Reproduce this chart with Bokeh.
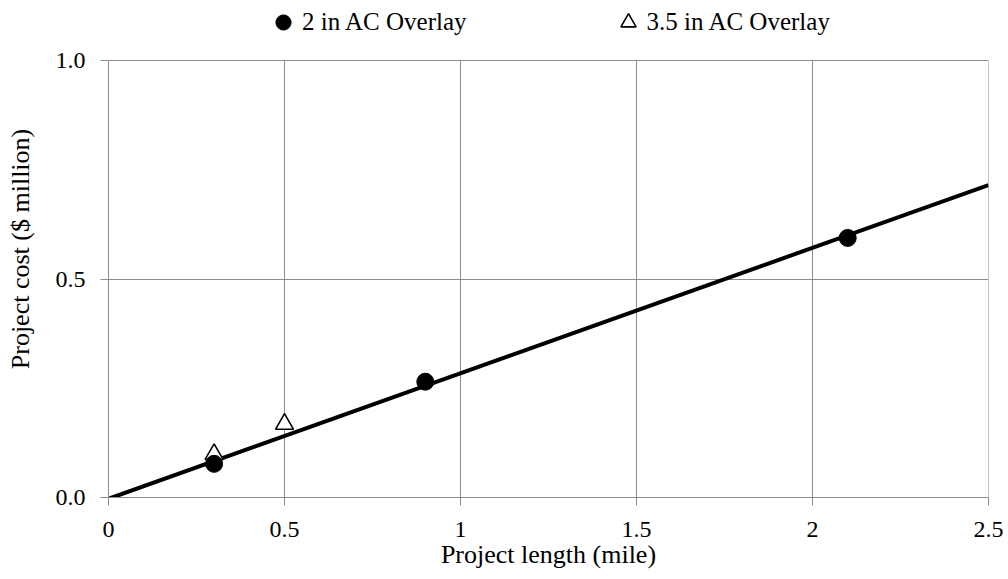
from bokeh.plotting import figure
from bokeh.models import Range1d, FixedTicker, Legend, LegendItem
from bokeh.embed import file_html
from bokeh.resources import INLINE

# ---- data ----
x_ticks = [0, 0.5, 1, 1.5, 2, 2.5]
x_tick_labels = ["0", "0.5", "1", "1.5", "2", "2.5"]
y_ticks = [0.0, 0.5, 1.0]
y_tick_labels = ["0.0", "0.5", "1.0"]

ac2_x = [0.3, 0.9, 2.1]
ac2_y = [0.077, 0.265, 0.594]
ac35_x = [0.3, 0.5]
ac35_y = [0.099, 0.168]

trend_x = [0.0, 2.5]
trend_y = [-0.003, 0.715]

FONT = "Liberation Serif"
GRID = "#8c8c8c"

# frame spans the full height above the x axis; the legend sits in the strip above y = 1.0
FRAME_H = 497
PLOT_H = 437
p = figure(width=1008, height=579, output_backend="svg", toolbar_location=None,
           x_range=Range1d(x_ticks[0], x_ticks[-1]),
           y_range=Range1d(y_ticks[0], y_ticks[-1] * FRAME_H / PLOT_H),
           min_border_left=108, min_border_right=20,
           min_border_top=0, min_border_bottom=82)
p.outline_line_color = None
p.background_fill_color = "white"
p.border_fill_color = "white"

# vertical grid lines, bounded to the 0..1 value band
p.segment(x0=x_ticks, y0=[y_ticks[0]] * len(x_ticks),
          x1=x_ticks, y1=[y_ticks[-1]] * len(x_ticks),
          line_color=GRID, line_width=1)
p.xgrid.visible = False
p.ygrid.ticker = FixedTicker(ticks=y_ticks)
p.ygrid.grid_line_color = GRID
p.ygrid.grid_line_width = 1

# trend line
p.line(trend_x, trend_y, line_color="black", line_width=4)

tri = p.scatter(ac35_x, ac35_y, marker="triangle", size=18,
                fill_color="white", line_color="black", line_width=1.6)
cir = p.scatter(ac2_x, ac2_y, marker="circle", size=17,
                fill_color="black", line_color="black")

# axes
for ax in (p.xaxis[0], p.yaxis[0]):
    ax.axis_line_color = GRID
    ax.major_tick_line_color = GRID
    ax.major_tick_in = 0
    ax.major_tick_out = 8
    ax.minor_tick_line_color = None
    ax.major_label_text_font = FONT
    ax.major_label_text_font_size = "24px"
    ax.major_label_text_color = "black"
    ax.axis_label_text_font = FONT
    ax.axis_label_text_font_size = "26px"
    ax.axis_label_text_font_style = "normal"
    ax.axis_label_text_color = "black"

p.xaxis.ticker = FixedTicker(ticks=x_ticks)
p.xaxis.major_label_overrides = dict(zip(x_ticks, x_tick_labels))
p.yaxis.ticker = FixedTicker(ticks=y_ticks)
p.yaxis.major_label_overrides = dict(zip(y_ticks, y_tick_labels))
p.yaxis.bounds = (y_ticks[0], y_ticks[-1])
p.xaxis.axis_label = "Project length (mile)"
p.yaxis.axis_label = "Project cost ($ million)"
p.xaxis.major_label_standoff = 16
p.xaxis.axis_label_standoff = 0
p.yaxis.major_label_standoff = 15
p.yaxis.axis_label_standoff = 18

legend = Legend(items=[LegendItem(label="2 in AC Overlay", renderers=[cir]),
                       LegendItem(label="3.5 in AC Overlay", renderers=[tri])],
                orientation="horizontal", location=(156, 456),
                glyph_width=38, glyph_height=38, label_standoff=0,
                spacing=142, padding=0, margin=0,
                border_line_color=None, background_fill_alpha=0,
                label_text_font=FONT, label_text_font_size="25px",
                label_text_color="black")
p.add_layout(legend, "center")

open("out.html", "w").write(file_html(p, INLINE))
